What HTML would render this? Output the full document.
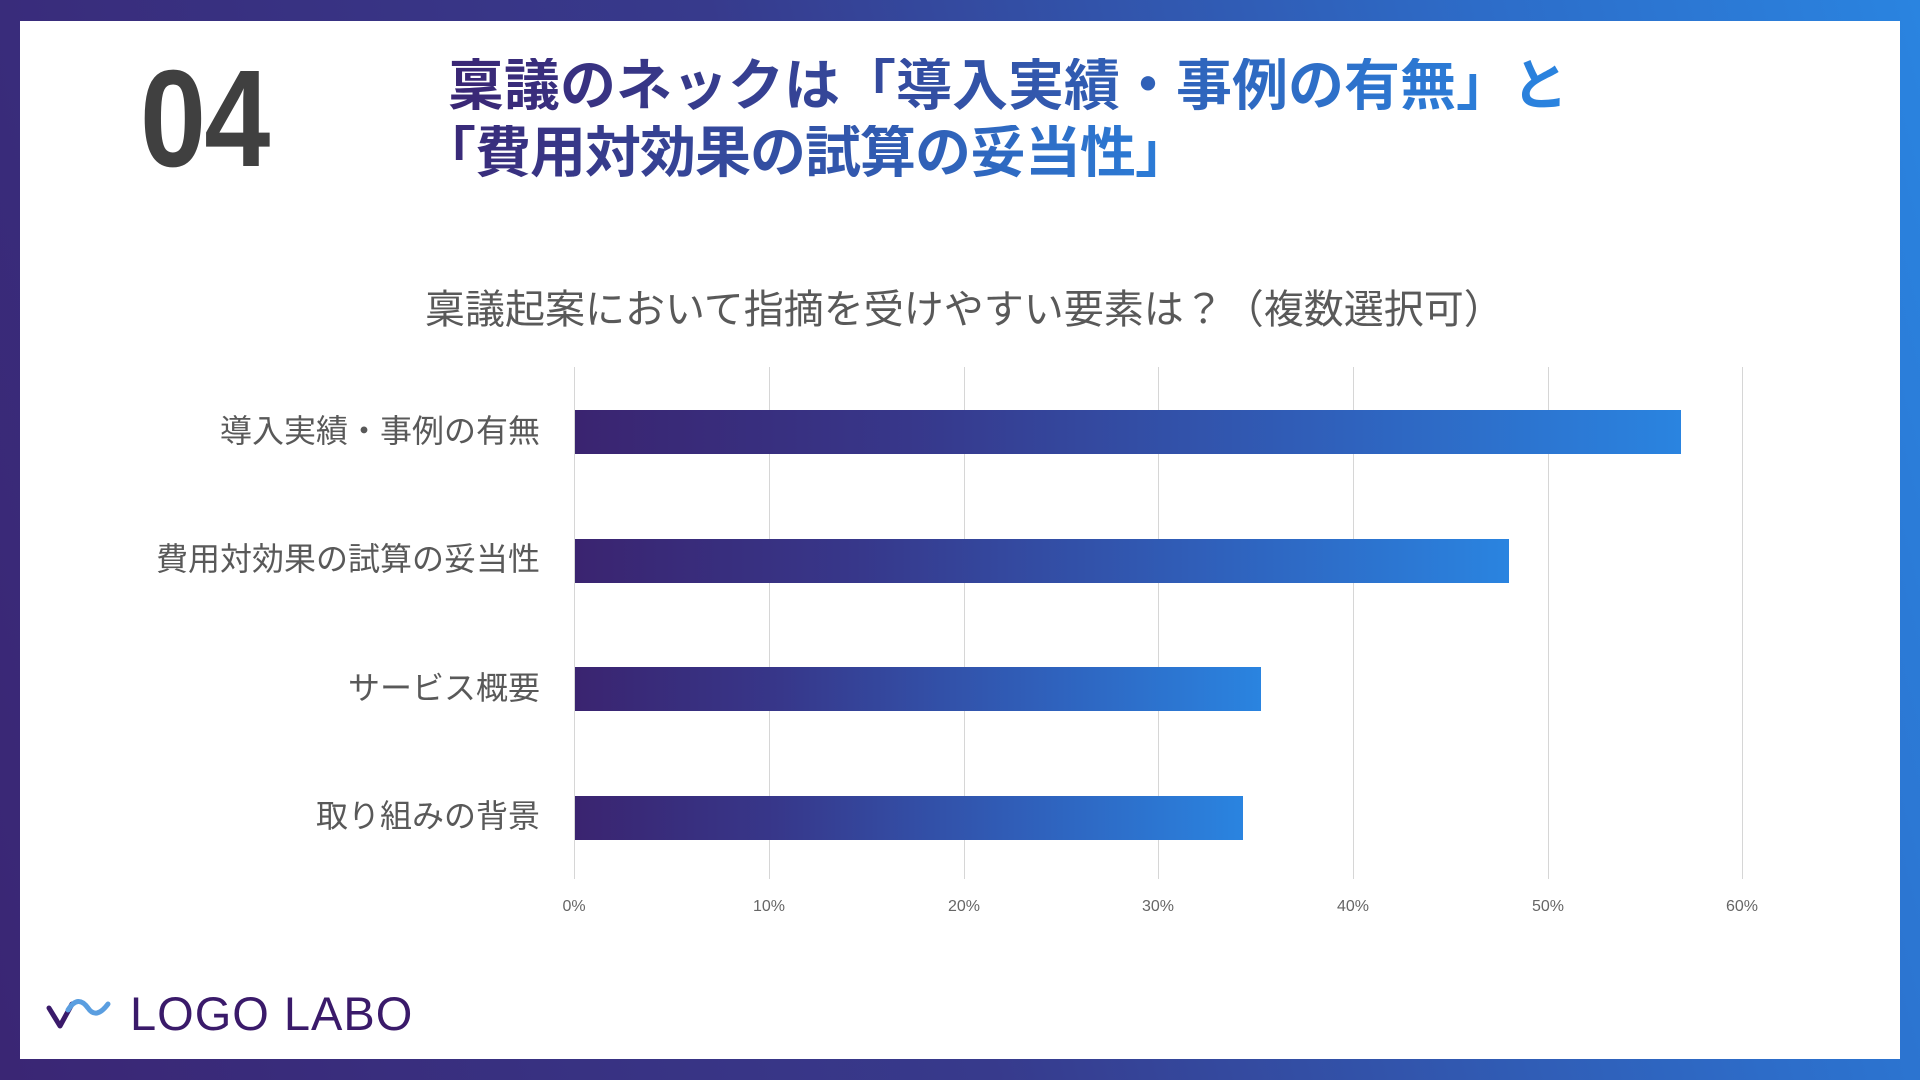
<!DOCTYPE html>
<html><head><meta charset="utf-8"><style>
*{margin:0;padding:0}
body{width:1920px;height:1080px;overflow:hidden;background:linear-gradient(75deg,#3a2674 0%,#373a8c 45%,#2d6cc8 80%,#2a84e0 100%);position:relative;font-family:"Liberation Sans","Noto Sans CJK JP",sans-serif}
.panel{position:absolute;left:20px;top:21px;width:1880px;height:1038px;background:#fff}
.num{position:absolute;left:140px;top:50px;font-size:138px;font-weight:bold;color:#404040;letter-spacing:-2px;line-height:1;transform:scaleX(0.86);transform-origin:left top}
.title{position:absolute;font-size:56px;font-weight:bold;line-height:1;background:linear-gradient(90deg,#3a2674,#2a84e0);-webkit-background-clip:text;background-clip:text;color:transparent;white-space:nowrap}
.sub{position:absolute;left:425px;top:290px;font-size:40px;color:#595959;white-space:nowrap;line-height:1}
.grid{position:absolute;top:367px;height:512px;width:1px;background:#d6d6d6}
.bar{position:absolute;left:575px;height:44px;background:linear-gradient(90deg,#3a2470 0%,#37378a 30%,#2f62bd 70%,#2a84e0 100%)}
.lab{position:absolute;right:1380px;font-size:32px;color:#595959;white-space:nowrap;line-height:1}
.tick{position:absolute;top:898px;font-size:16px;color:#666;width:60px;text-align:center;margin-left:-30px}
.logo{position:absolute;left:130px;top:990px;font-size:47px;color:#3a1a6a;letter-spacing:1px;line-height:1}
</style></head><body>
<div class="panel"></div>
<div class="num">04</div>
<div class="title" style="left:448px;top:58px;width:1120px">稟議のネックは「導入実績・事例の有無」と</div>
<div class="title" style="left:420px;top:125px;width:740px;letter-spacing:-1px;background:linear-gradient(90deg,#3a2674,#2a84e0 110%);-webkit-background-clip:text;background-clip:text">「費用対効果の試算の妥当性」</div>
<div class="sub">稟議起案において指摘を受けやすい要素は？（複数選択可）</div>
<div class="grid" style="left:574px"></div>
<div class="grid" style="left:769px"></div>
<div class="grid" style="left:964px"></div>
<div class="grid" style="left:1158px"></div>
<div class="grid" style="left:1353px"></div>
<div class="grid" style="left:1548px"></div>
<div class="grid" style="left:1742px"></div>
<div class="bar" style="top:410px;width:1106px"></div>
<div class="bar" style="top:539px;width:934px"></div>
<div class="bar" style="top:667px;width:686px"></div>
<div class="bar" style="top:796px;width:668px"></div>
<div class="lab" style="top:415px">導入実績・事例の有無</div>
<div class="lab" style="top:543px">費用対効果の試算の妥当性</div>
<div class="lab" style="top:672px">サービス概要</div>
<div class="lab" style="top:800px">取り組みの背景</div>
<div class="tick" style="left:574px">0%</div>
<div class="tick" style="left:769px">10%</div>
<div class="tick" style="left:964px">20%</div>
<div class="tick" style="left:1158px">30%</div>
<div class="tick" style="left:1353px">40%</div>
<div class="tick" style="left:1548px">50%</div>
<div class="tick" style="left:1742px">60%</div>
<svg style="position:absolute;left:46px;top:996px" width="66" height="36" viewBox="0 0 66 36">
<path d="M3 12 L14 30 L26 8" fill="none" stroke="#3a1a6a" stroke-width="5" stroke-linecap="round" stroke-linejoin="round"/>
<path d="M22 14 Q32 -2 42 12 Q50 24 62 8" fill="none" stroke="#5a9ee0" stroke-width="5" stroke-linecap="round"/>
</svg>
<div class="logo">LOGO LABO</div>
</body></html>
